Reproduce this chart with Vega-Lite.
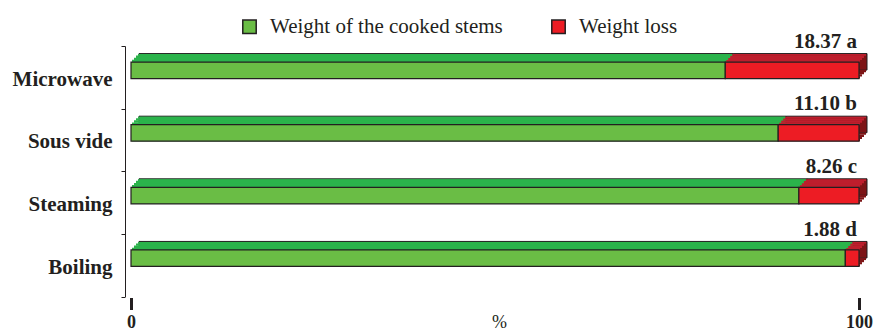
{
  "$schema": "https://vega.github.io/schema/vega-lite/v6.json",
  "autosize": {"type": "none"},
  "width": 728,
  "height": 250.5,
  "padding": {"left": 131, "top": 46, "right": 14, "bottom": 35.5},
  "config": {
    "view": {"stroke": null},
    "font": "Liberation Serif"
  },
  "data": {
    "values": [
      {"method": "Microwave", "part": "Weight of the cooked stems", "value": 81.63, "sig": "a"},
      {"method": "Microwave", "part": "Weight loss", "value": 18.37, "sig": "a"},
      {"method": "Sous vide", "part": "Weight of the cooked stems", "value": 88.90, "sig": "b"},
      {"method": "Sous vide", "part": "Weight loss", "value": 11.10, "sig": "b"},
      {"method": "Steaming", "part": "Weight of the cooked stems", "value": 91.74, "sig": "c"},
      {"method": "Steaming", "part": "Weight loss", "value": 8.26, "sig": "c"},
      {"method": "Boiling", "part": "Weight of the cooked stems", "value": 98.12, "sig": "d"},
      {"method": "Boiling", "part": "Weight loss", "value": 1.88, "sig": "d"}
    ]
  },
  "transform": [
    {"stack": "value", "groupby": ["method"], "sort": [{"field": "part", "order": "descending"}], "as": ["x0", "x1"]},
    {"calculate": "format(datum.value, '.2f') + ' ' + datum.sig", "as": "label"}
  ],
  "encoding": {
    "y": {
      "field": "method",
      "type": "nominal",
      "sort": ["Microwave", "Sous vide", "Steaming", "Boiling"],
      "scale": {"paddingInner": 0, "paddingOuter": 0},
      "axis": {
        "title": null,
        "offset": 6,
        "domainColor": "#231f20",
        "domainWidth": 1,
        "tickBand": "extent",
        "tickColor": "#231f20",
        "tickSize": 4,
        "tickWidth": 1,
        "labelFont": "Liberation Serif",
        "labelFontWeight": "bold",
        "labelFontSize": 21,
        "labelColor": "#231f20",
        "labelPadding": 9,
        "labelOffset": 2
      }
    }
  },
  "layer": [
    {
      "encoding": {
        "x": {
          "field": "x0",
          "type": "quantitative",
          "scale": {"domain": [0, 100], "nice": false, "zero": false},
          "axis": {
            "values": [0, 100],
            "grid": false,
            "domain": false,
            "offset": 1,
            "tickSize": 12,
            "tickWidth": 3,
            "tickColor": "#231f20",
            "labelFlush": false,
            "labelFont": "Liberation Serif",
            "labelFontWeight": "bold",
            "labelFontSize": 18,
            "labelColor": "#231f20",
            "labelPadding": 4,
            "title": "%",
            "titleFont": "Liberation Serif",
            "titleFontWeight": "normal",
            "titleFontSize": 18,
            "titleColor": "#231f20",
            "titleBaseline": "alphabetic",
            "titleX": 368,
            "titleY": 30
          }
        },
        "x2": {"field": "x1"}
      },
      "layer": [
        {
          "mark": {"type": "bar", "height": 16.5, "yOffset": -15.5, "xOffset": 8, "x2Offset": 8, "stroke": "#231f20", "strokeWidth": 1},
          "encoding": {
            "color": {"condition": {"test": "datum.part === 'Weight loss'", "value": "#7d1416"}, "value": "#2bb34b"}
          }
        },
        {
          "mark": {"type": "bar", "height": 2.5, "yOffset": -16.25, "xOffset": 1, "x2Offset": 1},
          "encoding": {
            "color": {"condition": {"test": "datum.part === 'Weight loss'", "value": "#be1e2d"}, "value": "#2bb34b"}
          }
        },
        {
          "mark": {"type": "bar", "height": 2.4, "yOffset": -18.4, "xOffset": 3, "x2Offset": 3},
          "encoding": {
            "color": {"condition": {"test": "datum.part === 'Weight loss'", "value": "#be1e2d"}, "value": "#2bb34b"}
          }
        },
        {
          "mark": {"type": "bar", "height": 2.4, "yOffset": -20.6, "xOffset": 5, "x2Offset": 5},
          "encoding": {
            "color": {"condition": {"test": "datum.part === 'Weight loss'", "value": "#be1e2d"}, "value": "#2bb34b"}
          }
        },
        {
          "mark": {"type": "bar", "height": 1.7, "yOffset": -22.45, "xOffset": 7, "x2Offset": 7},
          "encoding": {
            "color": {"condition": {"test": "datum.part === 'Weight loss'", "value": "#be1e2d"}, "value": "#2bb34b"}
          }
        },
        {
          "mark": {"type": "bar", "height": 2.4, "yOffset": -6.3, "xOffset": 7, "x2Offset": 7},
          "encoding": {
            "color": {"condition": {"test": "datum.part === 'Weight loss'", "value": "#7d1416"}, "value": "#2bb34b"}
          }
        },
        {
          "mark": {"type": "bar", "height": 2.2, "yOffset": -4.1, "xOffset": 5, "x2Offset": 5},
          "encoding": {
            "color": {"condition": {"test": "datum.part === 'Weight loss'", "value": "#7d1416"}, "value": "#2bb34b"}
          }
        },
        {
          "mark": {"type": "bar", "height": 2.2, "yOffset": -2.0, "xOffset": 3, "x2Offset": 3},
          "encoding": {
            "color": {"condition": {"test": "datum.part === 'Weight loss'", "value": "#7d1416"}, "value": "#2bb34b"}
          }
        },
        {
          "mark": {"type": "bar", "height": 2.2, "yOffset": 0.1, "xOffset": 1, "x2Offset": 1},
          "encoding": {
            "color": {"condition": {"test": "datum.part === 'Weight loss'", "value": "#7d1416"}, "value": "#2bb34b"}
          }
        },
        {
          "mark": {"type": "bar", "height": 16.5, "yOffset": -7, "stroke": "#231f20", "strokeWidth": 1.2},
          "encoding": {
            "color": {
              "field": "part",
              "type": "nominal",
              "scale": {"domain": ["Weight of the cooked stems", "Weight loss"], "range": ["#6abd45", "#ed1c24"]},
              "legend": {
                "title": null,
                "orient": "none",
                "direction": "horizontal",
                "legendX": 108,
                "legendY": -30,
                "symbolType": "square",
                "symbolSize": 180,
                "symbolStrokeColor": "#231f20",
                "symbolStrokeWidth": 1.5,
                "symbolOpacity": 1,
                "labelFont": "Liberation Serif",
                "labelFontSize": 21,
                "labelColor": "#231f20",
                "labelOffset": 10,
                "labelLimit": 400,
                "columnPadding": 45
              }
            }
          }
        }
      ]
    },
    {
      "transform": [{"filter": "datum.part === 'Weight loss'"}],
      "mark": {
        "type": "text",
        "align": "right",
        "baseline": "alphabetic",
        "dx": -2,
        "yOffset": -29.5,
        "font": "Liberation Serif",
        "fontWeight": "bold",
        "fontSize": 21,
        "color": "#231f20"
      },
      "encoding": {
        "x": {"field": "x1", "type": "quantitative"},
        "text": {"field": "label"}
      }
    }
  ]
}
